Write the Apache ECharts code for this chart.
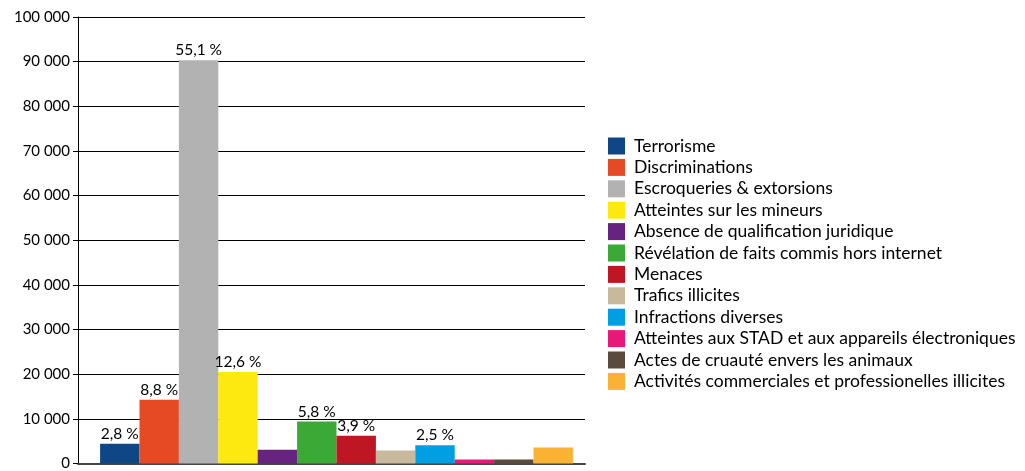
<!DOCTYPE html>
<html>
<head>
<meta charset="utf-8">
<script src="https://cdn.jsdelivr.net/npm/echarts@6/dist/echarts.min.js"></script>
<style>
html, body { margin: 0; padding: 0; background: #fff; }
#chart { width: 1025px; height: 471px; }
</style>
</head>
<body>
<div id="chart"></div>
<script>
var categories = ['Terrorisme', 'Discriminations', 'Escroqueries & extorsions', 'Atteintes sur les mineurs',
    'Absence de qualification juridique', 'Révélation de faits commis hors internet', 'Menaces',
    'Trafics illicites', 'Infractions diverses', 'Atteintes aux STAD et aux appareils électroniques',
    'Actes de cruauté envers les animaux', 'Activités commerciales et professionelles illicites'];
var values = [4400, 14300, 90300, 20500, 3100, 9400, 6200, 2900, 4100, 900, 900, 3600];
var percentLabels = ['2,8 %', '8,8 %', '55,1 %', '12,6 %', null, '5,8 %', '3,9 %', null, '2,5 %', null, null, null];
var colors = ['#0e4686', '#e64a25', '#b2b2b2', '#fde910', '#66237f', '#3aa935', '#be1622',
    '#c9b99c', '#009fe3', '#e6197a', '#5b4a3e', '#f9b234'];
var yTicks = { min: 0, max: 100000, interval: 10000 };

var font = 'Lato, "Open Sans", sans-serif';

var chart = echarts.init(document.getElementById('chart'));

// empty slot on the left so the group of bars sits like in the original
var series = [{
    name: 'spacer',
    type: 'bar',
    data: [null],
    barWidth: 10,
    barGap: '0%'
}];

categories.forEach(function (name, i) {
    series.push({
        name: name,
        type: 'bar',
        data: [values[i]],
        barWidth: 39.4,
        barGap: '0%',
        itemStyle: { color: colors[i] },
        label: {
            show: percentLabels[i] != null,
            position: 'top',
            distance: 2,
            color: '#000',
            fontFamily: font,
            fontSize: 15.5,
            formatter: function () { return percentLabels[i]; }
        }
    });
});

chart.setOption({
    animation: false,
    color: colors,
    grid: { left: 78, right: 440, top: 17, bottom: 4, containLabel: false },
    legend: {
        orient: 'vertical',
        left: 608,
        top: 137,
        padding: 0,
        itemWidth: 17,
        itemHeight: 17,
        itemGap: 3.4,
        icon: 'rect',
        textStyle: { color: '#000', fontFamily: font, fontSize: 17.5, lineHeight: 17, padding: [0, 0, 0, 4] },
        data: categories
    },
    xAxis: {
        type: 'category',
        data: [''],
        axisLine: { lineStyle: { color: '#444', width: 2 } },
        axisTick: { show: false },
        axisLabel: { show: false }
    },
    yAxis: {
        type: 'value',
        min: yTicks.min,
        max: yTicks.max,
        interval: yTicks.interval,
        axisLine: { show: true, lineStyle: { color: '#000', width: 1 } },
        axisTick: { show: true, length: 5, lineStyle: { color: '#000' } },
        splitLine: { lineStyle: { color: '#000', width: 1 } },
        axisLabel: {
            color: '#000',
            fontFamily: font,
            fontSize: 15,
            margin: 8,
            formatter: function (v) { return String(v).replace(/\B(?=(\d{3})+(?!\d))/g, ' '); }
        }
    },
    series: series
});
</script>
</body>
</html>
